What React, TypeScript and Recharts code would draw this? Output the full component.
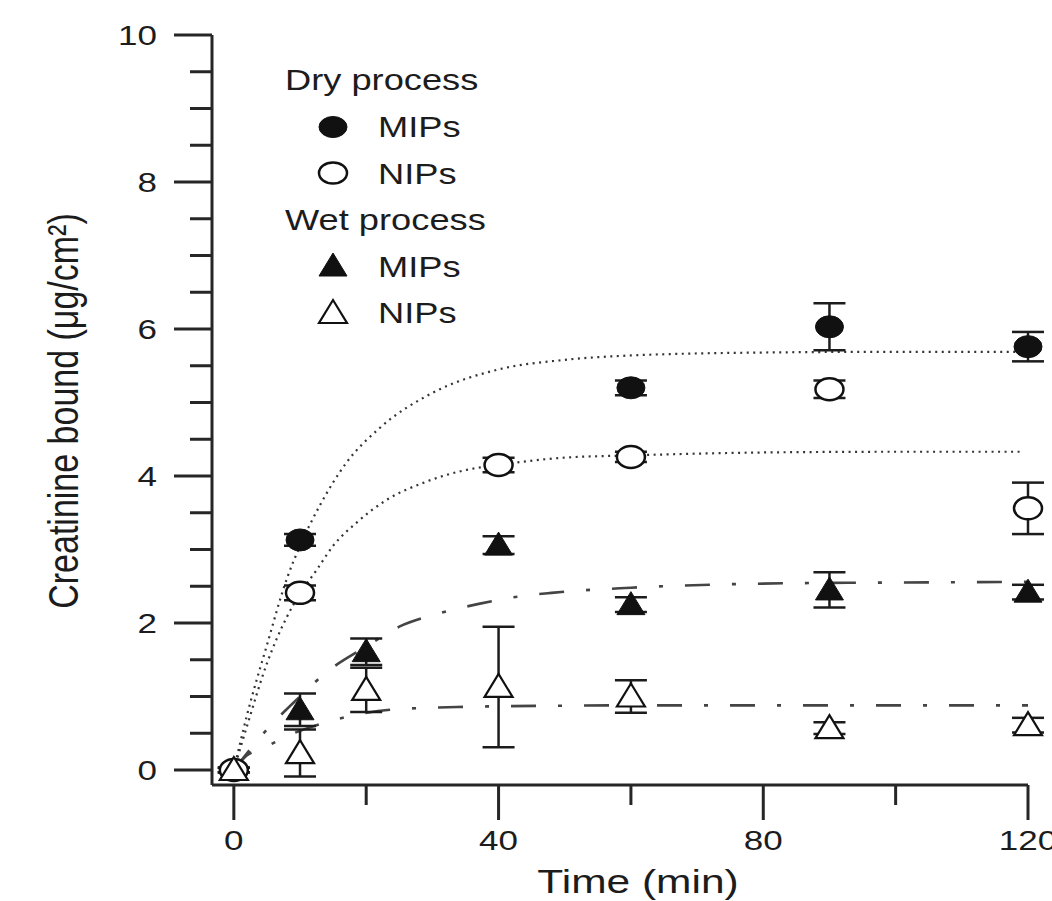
import React from "react";
import { ComposedChart, Line, Scatter, ErrorBar, XAxis, YAxis, Legend } from "recharts";

// measured points: time (min), creatinine bound (µg/cm²), error bar (±)
const dryMipT = [0, 10, 60, 90, 120];
const dryMipV = [0, 3.13, 5.2, 6.03, 5.76];
const dryMipErr = [0.03, 0.08, 0.1, 0.32, 0.2];

const dryNipT = [0, 10, 40, 60, 90, 120];
const dryNipV = [0, 2.41, 4.15, 4.26, 5.18, 3.56];
const dryNipErr = [0.03, 0.1, 0.1, 0.07, 0.12, 0.35];

const wetMipT = [0, 10, 20, 40, 60, 90, 120];
const wetMipV = [0, 0.82, 1.61, 3.06, 2.25, 2.45, 2.42];
const wetMipErr = [0.03, 0.22, 0.18, 0.12, 0.1, 0.24, 0.1];

const wetNipT = [0, 10, 20, 40, 60, 90, 120];
const wetNipV = [0, 0.23, 1.09, 1.13, 1.0, 0.57, 0.61];
const wetNipErr = [0.03, 0.32, 0.3, 0.82, 0.22, 0.08, 0.1];

// fitted curves
const dryMipFitT = [0, 2, 5, 8, 10, 13, 17, 22, 30, 40, 50, 60, 80, 100, 120];
const dryMipFitV = [0, 0.75, 1.7, 2.6, 3.05, 3.6, 4.18, 4.65, 5.13, 5.45, 5.58, 5.64, 5.68, 5.69, 5.69];

const dryNipFitT = [0, 2, 5, 8, 10, 12.5, 15, 18.6, 23, 29, 35, 40, 50, 60, 80, 100, 119];
const dryNipFitV = [0, 0.6, 1.45, 2.08, 2.4, 2.72, 3.05, 3.37, 3.67, 3.92, 4.08, 4.15, 4.25, 4.28, 4.32, 4.33, 4.33];

const wetMipFitT = [0, 5, 10, 14, 20, 25, 31, 37, 43, 48, 60, 83, 100, 120];
const wetMipFitV = [0, 0.55, 1.0, 1.33, 1.68, 1.95, 2.13, 2.26, 2.36, 2.41, 2.48, 2.54, 2.55, 2.56];

const wetNipFitT = [0, 2, 4.5, 8.5, 11.5, 16, 23.6, 35, 50, 60, 90, 120];
const wetNipFitV = [0, 0.2, 0.3, 0.48, 0.58, 0.7, 0.82, 0.86, 0.875, 0.88, 0.88, 0.88];

const xTicks = [0, 20, 40, 60, 80, 100, 120];
const xLabelled = [0, 40, 80, 120];
const yTicks = [0, 0.5, 1, 1.5, 2, 2.5, 3, 3.5, 4, 4.5, 5, 5.5, 6, 6.5, 7, 7.5, 8, 8.5, 9, 9.5, 10];
const yLabelled = [0, 2, 4, 6, 8, 10];

const legendGroups = [
  { title: "Dry process", items: [{ label: "MIPs", shape: "circle", filled: true }, { label: "NIPs", shape: "circle", filled: false }] },
  { title: "Wet process", items: [{ label: "MIPs", shape: "triangle", filled: true }, { label: "NIPs", shape: "triangle", filled: false }] },
];

const points = (t: number[], v: number[], e?: number[]) =>
  t.map((x, i) => ({ t: x, v: v[i], err: e ? e[i] : 0 }));

const dryMip = points(dryMipT, dryMipV, dryMipErr);
const dryNip = points(dryNipT, dryNipV, dryNipErr);
const wetMip = points(wetMipT, wetMipV, wetMipErr);
const wetNip = points(wetNipT, wetNipV, wetNipErr);

const AXIS = "#262626";
const INK = "#1c1c1c";
const FONT = '"Liberation Sans", Arial, Helvetica, sans-serif';

function Marker({ shape, filled, cx, cy, rx = 14, ry = 11 }: any) {
  const fill = filled ? "#111" : "#fff";
  if (shape === "triangle") {
    const pts = `${cx - rx},${cy + ry - 1} ${cx + rx},${cy + ry - 1} ${cx},${cy - ry - 2}`;
    return <polygon points={pts} fill={fill} stroke="#111" strokeWidth={filled ? 1 : 2.2} strokeLinejoin="miter" />;
  }
  return <ellipse cx={cx} cy={cy} rx={rx} ry={ry} fill={fill} stroke="#111" strokeWidth={filled ? 1 : 2.5} />;
}

const shapeOf = (shape: string, filled: boolean) => (p: any) =>
  <Marker shape={shape} filled={filled} cx={p.cx} cy={p.cy} />;

function XTick({ x, y, payload }: any) {
  const major = xLabelled.includes(payload.value);
  return (
    <g>
      <line x1={x} x2={x} y1={y} y2={y + (major ? 35 : 20)} stroke={AXIS} strokeWidth={3} />
      {major && (
        <text transform={`translate(${x},${y + 65}) scale(1.25,1)`} textAnchor="middle"
          fontSize={28} fontFamily={FONT} fill={INK}>{payload.value}</text>
      )}
    </g>
  );
}

function YTick({ x, y, payload }: any) {
  const major = yLabelled.includes(payload.value);
  return (
    <g>
      <line x1={x - (major ? 38 : 22)} x2={x} y1={y} y2={y} stroke={AXIS} strokeWidth={3} />
      {major && (
        <text transform={`translate(${x - 55},${y + 10}) scale(1.25,1)`} textAnchor="end"
          fontSize={28} fontFamily={FONT} fill={INK}>{payload.value}</text>
      )}
    </g>
  );
}

function LegendBox() {
  const rows: any[] = [];
  legendGroups.forEach((g) => {
    rows.push({ title: g.title });
    g.items.forEach((it) => rows.push(it));
  });
  const txt: React.CSSProperties = {
    position: "absolute", fontFamily: FONT, fontSize: 29, lineHeight: "34px", color: INK,
    transform: "scaleX(1.25)", transformOrigin: "left center", whiteSpace: "nowrap",
  };
  return (
    <div style={{ position: "relative", width: 400, height: 340 }}>
      {rows.map((r, i) => {
        const cy = 80 + i * 46.6;
        if (r.title) return <div key={i} style={{ ...txt, left: 285, top: cy - 16.7 }}>{r.title}</div>;
        return (
          <React.Fragment key={i}>
            <svg style={{ position: "absolute", left: 333 - 20, top: cy - 16 }} width={40} height={32}>
              <Marker shape={r.shape} filled={r.filled} cx={20} cy={16} rx={14} ry={r.shape === "triangle" ? 11 : 10.5} />
            </svg>
            <div style={{ ...txt, left: 378, top: cy - 16.7 }}>{r.label}</div>
          </React.Fragment>
        );
      })}
    </div>
  );
}

export default function App() {
  const dotted = { stroke: "#333", strokeWidth: 2.2, strokeDasharray: "2 4.5" };
  const dashDot = { stroke: "#444", strokeWidth: 2.6, strokeDasharray: "25 22 4 22" };
  const err = { direction: "y" as const, width: 16, stroke: INK, strokeWidth: 2.5 };
  return (
    <div style={{ position: "absolute", left: 0, top: 0, background: "#fff" }}>
      <ComposedChart width={1052} height={901} margin={{ top: 35, right: 24, left: 0, bottom: 0 }}>
        <XAxis dataKey="t" type="number" domain={[-3.3, 120]} ticks={xTicks} interval={0}
          height={116} tickSize={0} tickMargin={0} tick={<XTick />}
          axisLine={{ stroke: AXIS, strokeWidth: 3 }} />
        <YAxis type="number" domain={[-0.204, 10]} ticks={yTicks} interval={0}
          width={212} tickSize={0} tickMargin={0} tick={<YTick />}
          axisLine={{ stroke: AXIS, strokeWidth: 3 }} />
        <Legend layout="horizontal" verticalAlign="middle" align="center" content={<LegendBox />}
          wrapperStyle={{ left: 0, top: 0, width: 400, height: 340 }} />

        <Line data={points(dryMipFitT, dryMipFitV)} dataKey="v" type="monotone" dot={false} legendType="none" isAnimationActive={false} {...dotted} />
        <Line data={points(dryNipFitT, dryNipFitV)} dataKey="v" type="monotone" dot={false} legendType="none" isAnimationActive={false} {...dotted} />
        <Line data={points(wetMipFitT, wetMipFitV)} dataKey="v" type="monotone" dot={false} legendType="none" isAnimationActive={false} {...dashDot} />
        <Line data={points(wetNipFitT, wetNipFitV)} dataKey="v" type="monotone" dot={false} legendType="none" isAnimationActive={false} {...dashDot} />

        <Scatter name="Dry MIPs" data={dryMip} dataKey="v" shape={shapeOf("circle", true)} isAnimationActive={false}>
          <ErrorBar dataKey="err" {...err} />
        </Scatter>
        <Scatter name="Wet MIPs" data={wetMip} dataKey="v" shape={shapeOf("triangle", true)} isAnimationActive={false}>
          <ErrorBar dataKey="err" {...err} />
        </Scatter>
        <Scatter name="Dry NIPs" data={dryNip} dataKey="v" shape={shapeOf("circle", false)} isAnimationActive={false}>
          <ErrorBar dataKey="err" {...err} />
        </Scatter>
        <Scatter name="Wet NIPs" data={wetNip} dataKey="v" shape={shapeOf("triangle", false)} isAnimationActive={false}>
          <ErrorBar dataKey="err" {...err} />
        </Scatter>

        <text transform="translate(78,411) scale(1.25,1) rotate(-90)" textAnchor="middle"
          fontSize={34} fontFamily={FONT} fill={INK}>Creatinine bound (μg/cm²)</text>
        <text transform="translate(638,893) scale(1.25,1)" textAnchor="middle"
          fontSize={34} fontFamily={FONT} fill={INK}>Time (min)</text>
      </ComposedChart>
    </div>
  );
}
